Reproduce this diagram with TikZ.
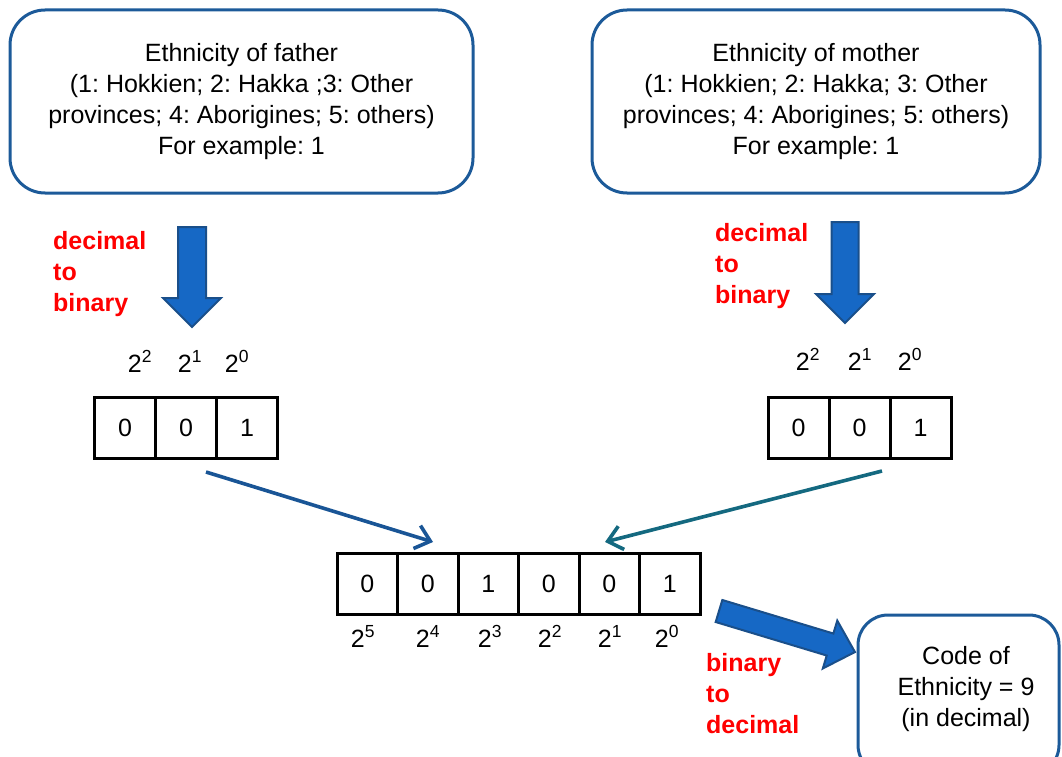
\documentclass[tikz,border=0pt]{standalone}
\usepackage{fontspec}
\setmainfont{Liberation Sans}
\usetikzlibrary{arrows.meta}
\frenchspacing
\definecolor{boxblue}{RGB}{28,90,153}
\definecolor{arrowfill}{RGB}{22,104,197}
\definecolor{arrowline}{RGB}{26,79,138}
\definecolor{linkblue}{RGB}{25,85,150}
\definecolor{linkteal}{RGB}{20,105,128}
\tikzset{
	infobox/.style={draw=boxblue, line width=3pt, rounded corners=35pt, minimum height=183pt, align=center, font=\fontsize{25}{31}\selectfont},
	bitcell/.style={draw, line width=3pt, minimum width=61pt, minimum height=61pt, inner sep=0pt, font=\fontsize{25}{30}\selectfont},
	power/.style={anchor=base, inner sep=0pt, font=\fontsize{25}{30}\selectfont},
	redlabel/.style={text=red, anchor=west, align=left, inner sep=0pt, font=\fontsize{25}{31}\selectfont\bfseries},
	bigarrow/.style={fill=arrowfill, draw=arrowline, line width=2pt, line join=miter},
	link/.style={line width=3.6pt, -{Straight Barb[length=14pt,width=24pt]}},
}
% block arrow: start, angle, length, half shaft, half head, head length
\newcommand{\blockarrow}[6]{\draw[bigarrow, shift={(#1)}, rotate=#2] (0,-#4) -- ({#3-#6},-#4) -- ({#3-#6},-#5) -- (#3,0) -- ({#3-#6},#5) -- ({#3-#6},#4) -- (0,#4) -- cycle;}
\begin{document}
\begin{tikzpicture}[x=1pt,y=-1pt]
	\useasboundingbox (0,0) rectangle (1062,757);
	\clip (0,0) rectangle (1062,757);
	% parents
	\node [infobox, minimum width=463pt] (father) at (241.5,101.5) {Ethnicity of father\\(1: Hokkien; 2: Hakka ;3: Other\\provinces; 4: Aborigines; 5: others)\\For example: 1};
	\node [infobox, minimum width=448pt] (mother) at (816,101.5) {Ethnicity of mother\\(1: Hokkien; 2: Hakka; 3: Other\\provinces; 4: Aborigines; 5: others)\\For example: 1};
	% decimal to binary
	\coordinate (ftop) at (192,227);
	\coordinate (mtop) at (845,222);
	\blockarrow{ftop}{-90}{100}{14}{29}{29}
	\blockarrow{mtop}{-90}{101}{13.5}{29}{29}
	\node [redlabel] (fconv) at (53,274) {decimal\\to\\binary};
	\node [redlabel] (mconv) at (715,266) {decimal\\to\\binary};
	% three bits each
	\foreach \e/\x in {2/140,1/190,0/237}
		\node [power] (fp\e) at (\x,372) {2\textsuperscript{\e}};
	\foreach \e/\x in {2/808,1/860,0/910}
		\node [power] (mp\e) at (\x,370) {2\textsuperscript{\e}};
	\foreach \b [count=\i] in {0,0,1}
		\node [bitcell] (f\i) at (64+61*\i,427.5) {\b};
	\foreach \b [count=\i] in {0,0,1}
		\node [bitcell] (m\i) at (737.5+61*\i,427.5) {\b};
	% six bits
	\foreach \b [count=\i] in {0,0,1,0,0,1}
		\node [bitcell, minimum width=60.5pt] (c\i) at (306.75+60.5*\i,584) {\b};
	\foreach \e/\x in {5/363,4/428,3/490,2/550,1/610,0/667}
		\node [power] (cp\e) at (\x,647) {2\textsuperscript{\e}};
	% joining
	\coordinate (fout) at (206,472);
	\coordinate (fin) at (433,542);
	\coordinate (mout) at (882,471);
	\coordinate (min) at (605,542);
	\draw [link, linkblue] (fout) -- (fin);
	\draw [link, linkteal] (mout) -- (min);
	% binary to decimal
	\coordinate (cout) at (719,611);
	\blockarrow{cout}{-16.8}{142}{11.5}{25}{26}
	\node [redlabel] (rconv) at (706,694) {binary\\to\\decimal};
	\node [draw=boxblue, line width=3pt, rounded corners=30pt, minimum width=201pt, minimum height=160pt] (result) at (958.5,695) {};
	\node [align=center, font=\fontsize{25}{31}\selectfont] (resulttext) at (966,689) {Code of\\Ethnicity = 9\\(in decimal)};
\end{tikzpicture}
\end{document}
